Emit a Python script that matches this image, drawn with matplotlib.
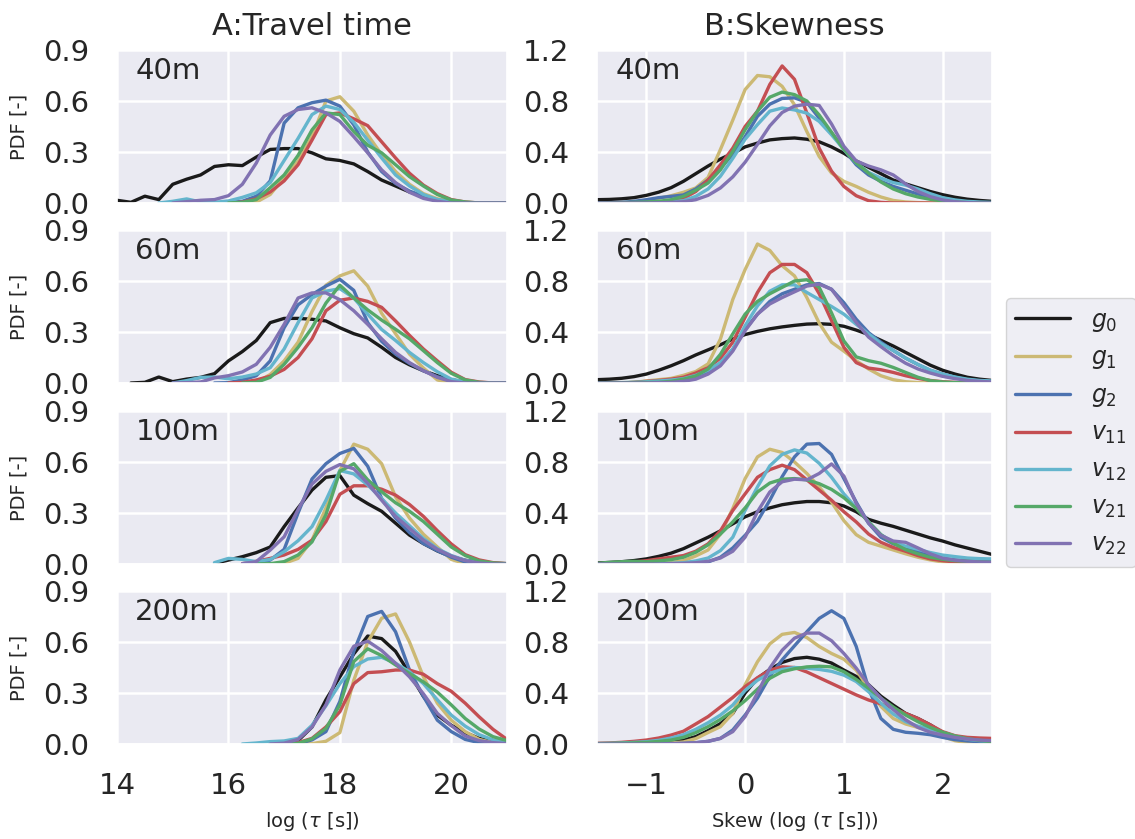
import numpy as np
import matplotlib
matplotlib.use("Agg")
import matplotlib.pyplot as plt
from matplotlib.lines import Line2D
import seaborn as sns

sns.set_theme(style="darkgrid")
plt.rcParams["font.family"] = ["DejaVu Sans"]
plt.rcParams["grid.linewidth"] = 1.8

nan = np.nan

# sample positions of the density curves
tau_grid = np.arange(14.0, 21.0001, 0.25)      # log travel time
skew_grid = np.arange(-1.5, 2.5001, 0.125)     # skewness

series = ["g0", "g1", "g2", "v11", "v12", "v21", "v22"]
legend_labels = [r"$g_0$", r"$g_1$", r"$g_2$", r"$v_{11}$", r"$v_{12}$", r"$v_{21}$", r"$v_{22}$"]
colors = ["#1a1a1a", "#ccb974", "#4c72b0", "#c44e52", "#64b5cd", "#55a868", "#8172b2"]
distances = ["40m", "60m", "100m", "200m"]

# ---- A: travel time densities ----
travel_40m = {
    "g0": [0.016, 0.004, 0.04, 0.02, 0.11, 0.14, 0.165, 0.215, 0.225, 0.22, 0.27, 0.315, 0.32, 0.32, 0.295,
           0.26, 0.25, 0.23, 0.185, 0.135, 0.1, 0.065, 0.04, 0.02, 0.008, 0.002, 0, 0, 0],
    "g1": [nan, nan, nan, nan, nan, nan, nan, nan, nan,
           0, .005, .05, .15, .245, .39, .6, .625, .54, .40, .285, .185, .11, .055, .025, .008, 0, 0, 0, 0],
    "g2": [nan, nan, nan, nan, nan, nan, nan,
           0, .003, .01, .04, .13, .47, .56, .59, .605, .57, .46, .30, .185, .115, .07, .04, .018, .006, 0, 0, 0, 0],
    "v11": [nan, nan, nan, nan, nan, nan, nan, nan,
            0, .005, .025, .065, .13, .225, .37, .52, .53, .495, .455, .36, .265, .175, .105, .055, .02, .006, 0, 0, 0],
    "v12": [nan, nan, nan,
            0, .01, .024, .006, .004, .012, .033, .06, .12, .25, .38, .52, .57, .55, .475, .37, .265, .165, .1,
            .05, .02, .008, 0, 0, 0, 0],
    "v21": [nan, nan, nan, nan, nan, nan, nan, nan,
            0, .004, .02, .09, .165, .28, .43, .53, .52, .42, .34, .295, .225, .155, .1, .05, .018, .006, 0, 0, 0],
    "v22": [nan, nan, nan, nan,
            0, .008, .016, .02, .043, .11, .235, .40, .51, .55, .56, .53, .48, .39, .295, .195, .12, .063, .027,
            .01, 0, 0, 0, 0, 0],
}
travel_60m = {
    "g0": [nan, 0, .004, .035, .008, .023, .033, .055, .13, .185, .25, .355, .38, .38, .375, .365, .325, .29,
           .265, .21, .15, .107, .072, .043, .02, .004, 0, 0, 0],
    "g1": [nan, nan, nan, nan, nan, nan, nan, nan, nan,
           0, .004, .05, .13, .24, .42, .575, .63, .66, .57, .41, .29, .17, .088, .018, 0, 0, 0, 0, 0],
    "g2": [nan, nan, nan, nan, nan, nan, nan,
           0, .002, .018, .043, .13, .325, .46, .52, .57, .61, .545, .355, .245, .17, .115, .072, .037, .014,
           .002, 0, 0, 0],
    "v11": [nan, nan, nan, nan, nan, nan, nan, nan,
            0, .004, .018, .04, .08, .15, .26, .425, .487, .5, .48, .445, .365, .28, .2, .13, .063, .02, .006, 0, 0],
    "v12": [nan, nan, nan, nan,
            0, .014, .033, .035, .025, .035, .053, .09, .2, .355, .5, .54, .555, .5, .405, .315, .25, .18, .12,
            .066, .023, .006, 0, 0, 0],
    "v21": [nan, nan, nan, nan, nan, nan, nan, nan, nan,
            0, .004, .033, .11, .21, .325, .47, .575, .5, .43, .37, .316, .26, .19, .12, .057, .018, .004, 0, 0],
    "v22": [nan, nan, nan, nan,
            0, .002, .006, .03, .043, .065, .11, .21, .345, .5, .53, .53, .49, .425, .345, .26, .18, .12, .072,
            .033, .008, 0, 0, 0, 0],
}
travel_100m = {
    "g0": [nan, nan, nan, nan, nan, nan, nan,
           .004, .023, .043, .067, .1, .22, .33, .435, .51, .52, .405, .355, .31, .24, .17, .12, .077, .043,
           .022, .01, .004, .002],
    "g1": [nan, nan, nan, nan, nan, nan, nan, nan, nan, nan, nan,
           0, .004, .033, .14, .33, .55, .705, .675, .59, .395, .27, .175, .1, .027, .002, 0, 0, 0],
    "g2": [nan, nan, nan, nan, nan, nan, nan, nan, nan, nan,
           .002, .023, .086, .3, .5, .59, .65, .68, .575, .385, .27, .185, .12, .078, .04, .012, .002, 0, 0],
    "v11": [nan, nan, nan, nan, nan, nan, nan, nan, nan,
            .002, .016, .033, .053, .086, .14, .25, .41, .46, .46, .44, .405, .35, .28, .196, .118, .055, .024,
            .008, .002],
    "v12": [nan, nan, nan, nan, nan, nan, nan,
            .008, .033, .027, .014, .027, .072, .137, .22, .375, .55, .53, .465, .385, .3, .225, .15, .09, .05,
            .022, .008, .002, 0],
    "v21": [nan, nan, nan, nan, nan, nan, nan, nan, nan, nan,
            0, .002, .014, .053, .13, .29, .545, .59, .495, .425, .36, .31, .25, .175, .1, .05, .018, .006, .002],
    "v22": [nan, nan, nan, nan, nan, nan, nan, nan, nan,
            .002, .014, .082, .16, .32, .47, .545, .585, .56, .475, .375, .28, .21, .14, .086, .047, .02, .006,
            0, 0],
}
travel_200m = {
    "g0": [nan, nan, nan, nan, nan, nan, nan, nan, nan, nan, nan,
           0, .002, .02, .1, .26, .395, .53, .635, .62, .545, .415, .28, .17, .11, .067, .033, .014, .006],
    "g1": [nan, nan, nan, nan, nan, nan, nan, nan, nan, nan, nan, nan, nan,
           0, .002, .016, .067, .375, .6, .74, .765, .6, .395, .24, .14, .073, .027, .008, .002],
    "g2": [nan, nan, nan, nan, nan, nan, nan, nan, nan, nan, nan, nan,
           0, .002, .024, .073, .25, .545, .75, .78, .66, .435, .28, .14, .073, .027, .008, .002, 0],
    "v11": [nan, nan, nan, nan, nan, nan, nan, nan, nan, nan, nan, nan,
            0, .008, .033, .1, .19, .355, .42, .425, .435, .435, .41, .355, .31, .24, .16, .086, .027],
    "v12": [nan, nan, nan, nan, nan, nan, nan, nan, nan,
            0, .006, .014, .018, .033, .11, .225, .355, .455, .5, .51, .475, .425, .355, .26, .17, .105, .055,
            .024, .01],
    "v21": [nan, nan, nan, nan, nan, nan, nan, nan, nan, nan, nan, nan,
            0, .004, .03, .092, .23, .485, .56, .52, .465, .415, .365, .305, .23, .15, .088, .043, .02],
    "v22": [nan, nan, nan, nan, nan, nan, nan, nan, nan, nan, nan,
            0, .005, .027, .1, .23, .435, .575, .605, .55, .475, .395, .295, .18, .108, .047, .02, .008, .002],
}

# ---- B: skewness densities ----
skew_40m = {
    "g0": [.026, .028, .033, .042, .06, .085, .12, .17, .23, .29, .345, .39, .44, .47, .495, .505, .51, .5, .48,
           .44, .39, .33, .28, .23, .18, .15, .12, .09, .065, .045, .03, .02, .013],
    "g1": [0, 0, 0, .003, .015, .037, .057, .084, .118, .2, .42, .65, .89, 1.0, .99, .915, .77, .56, .365, .235,
           .17, .13, .084, .047, .02, .008, .003, 0, 0, 0, 0, 0, 0],
    "g2": [0, .003, .005, .013, .026, .042, .052, .063, .11, .18, .275, .38, .52, .68, .775, .82, .825, .79,
           .665, .55, .42, .3, .22, .17, .13, .1, .07, .047, .026, .01, .003, 0, 0],
    "v11": [0, 0, 0, 0, .003, .008, .016, .037, .09, .18, .3, .43, .6, .72, .93, 1.075, .97, .705, .43, .25,
            .13, .057, .018, .005, 0, 0, 0, 0, 0, 0, 0, 0, 0],
    "v12": [0, 0, 0, 0, .003, .005, .01, .018, .052, .11, .21, .35, .5, .615, .72, .745, .73, .705, .64, .535,
            .42, .315, .24, .195, .16, .14, .11, .073, .042, .024, .013, .008, .005],
    "v21": [0, .002, .003, .005, .008, .013, .026, .052, .1, .157, .26, .405, .575, .72, .83, .87, .85, .8, .69,
            .555, .42, .315, .235, .165, .11, .073, .047, .029, .016, .008, .003, 0, 0],
    "v22": [0, 0, 0, 0, 0, .002, .005, .01, .026, .06, .118, .205, .32, .46, .605, .71, .76, .775, .765, .62,
            .445, .33, .29, .26, .22, .15, .09, .05, .024, .01, .003, 0, 0],
}
skew_60m = {
    "g0": [.026, .03, .037, .05, .07, .1, .135, .175, .22, .26, .3, .345, .38, .405, .425, .44, .452, .462, .465,
           .46, .445, .415, .38, .335, .29, .24, .19, .14, .1, .07, .045, .03, .02],
    "g1": [0, 0, 0, .005, .016, .026, .036, .06, .09, .15, .345, .655, .89, 1.09, 1.04, .92, .84, .67, .47,
           .32, .25, .175, .11, .057, .026, .01, .003, 0, 0, 0, 0, 0, 0],
    "g2": [0, 0, 0, 0, .003, .005, .01, .018, .04, .083, .155, .265, .42, .54, .64, .7, .735, .77, .78, .735,
           .63, .5, .395, .32, .255, .195, .145, .1, .07, .045, .026, .016, .01],
    "v11": [0, 0, 0, .005, .013, .02, .03, .045, .078, .12, .195, .32, .515, .71, .865, .93, .93, .865, .7,
            .49, .28, .16, .117, .104, .083, .057, .036, .02, .01, .005, 0, 0, 0],
    "v12": [0, 0, .002, .005, .01, .016, .023, .034, .06, .1, .16, .265, .45, .605, .72, .77, .77, .71, .655,
            .6, .54, .46, .385, .31, .255, .195, .145, .1, .07, .047, .03, .02, .016],
    "v21": [.003, .003, .003, .004, .004, .005, .013, .03, .055, .11, .225, .385, .54, .64, .7, .75, .8, .81,
            .75, .55, .33, .205, .175, .155, .122, .083, .045, .018, .008, .003, 0, 0, 0],
    "v22": [0, 0, 0, 0, 0, .003, .005, .013, .03, .07, .135, .25, .41, .54, .62, .67, .715, .76, .775, .735,
            .605, .475, .36, .285, .215, .155, .11, .078, .052, .034, .02, .013, .008],
}
skew_100m = {
    "g0": [.008, .012, .018, .027, .04, .06, .085, .12, .165, .21, .26, .315, .37, .41, .44, .465, .48, .49,
           .49, .48, .455, .41, .35, .32, .295, .265, .235, .205, .18, .15, .125, .1, .075],
    "g1": [0, 0, 0, 0, 0, .003, .01, .026, .063, .11, .235, .435, .67, .84, .9, .875, .8, .71, .605, .485, .34,
           .23, .17, .14, .11, .08, .053, .032, .016, .005, 0, 0, 0],
    "g2": [0, 0, 0, 0, 0, 0, 0, .003, .005, .016, .053, .126, .225, .335, .5, .685, .84, .94, .945, .86, .67,
           .485, .32, .21, .158, .13, .097, .066, .045, .032, .024, .021, .021],
    "v11": [.003, .005, .01, .016, .026, .04, .053, .066, .1, .158, .26, .42, .55, .68, .74, .775, .74, .66,
            .58, .5, .41, .33, .235, .17, .13, .1, .066, .04, .026, .016, .01, .008, .005],
    "v12": [0, 0, 0, 0, 0, .003, .005, .01, .024, .047, .105, .21, .42, .605, .77, .86, .895, .87, .79, .68,
            .55, .44, .33, .23, .17, .14, .115, .09, .07, .058, .047, .042, .04],
    "v21": [.005, .013, .018, .021, .018, .024, .034, .053, .092, .15, .235, .33, .44, .565, .635, .665, .67,
            .66, .63, .585, .52, .435, .33, .23, .163, .113, .08, .053, .037, .026, .021, .016, .013],
    "v22": [0, 0, 0, 0, 0, 0, .003, .005, .01, .021, .047, .1, .21, .41, .565, .645, .665, .66, .71, .785,
            .69, .475, .32, .225, .18, .17, .126, .08, .045, .03, .021, .016, .013],
}
skew_200m = {
    "g0": [.003, .003, .004, .005, .007, .012, .02, .03, .058, .105, .16, .24, .4, .515, .585, .64, .67, .68,
           .665, .635, .58, .53, .465, .375, .305, .24, .2, .15, .09, .052, .031, .018, .01],
    "g1": [0, 0, 0, 0, 0, .003, .008, .016, .042, .09, .136, .24, .465, .645, .785, .86, .875, .835, .765,
           .71, .665, .58, .435, .295, .2, .157, .13, .105, .058, .026, .01, .005, .003],
    "g2": [0, 0, 0, 0, 0, 0, .003, .005, .01, .021, .044, .11, .227, .36, .53, .66, .77, .88, .985, 1.045,
           .985, .765, .437, .2, .115, .092, .084, .073, .052, .034, .024, .018, .016],
    "v11": [.005, .008, .013, .021, .031, .047, .07, .1, .157, .215, .29, .365, .45, .52, .58, .605, .6, .565,
            .52, .475, .43, .385, .345, .315, .28, .24, .2, .15, .097, .065, .052, .047, .044],
    "v12": [.003, .005, .008, .013, .018, .029, .047, .073, .115, .167, .227, .305, .42, .5, .555, .585, .6,
            .595, .585, .57, .54, .49, .41, .32, .235, .175, .14, .118, .089, .058, .037, .026, .021],
    "v21": [.003, .004, .006, .009, .013, .02, .031, .052, .089, .136, .193, .26, .34, .43, .515, .567, .59,
            .605, .61, .605, .567, .507, .437, .36, .29, .227, .175, .13, .092, .063, .042, .029, .018],
    "v22": [0, 0, 0, 0, 0, 0, .003, .005, .01, .021, .044, .097, .215, .4, .595, .735, .83, .87, .87, .81,
            .71, .595, .465, .36, .27, .19, .13, .092, .07, .052, .039, .031, .026],
}

travel_panels = [travel_40m, travel_60m, travel_100m, travel_200m]
skew_panels = [skew_40m, skew_60m, skew_100m, skew_200m]

W, H = 1135, 839
fig = plt.figure(figsize=(W / 100, H / 100), dpi=100)

row_tops = [50, 230, 411, 591]
row_h = 153
col_boxes = [(117, 390), (597, 395)]

tick_fs = 21
text_color = "#262626"


def make_axes(left, width, top):
    return fig.add_axes([left / W, 1 - (top + row_h) / H, width / W, row_h / H])


def draw_panel(ax, grid, curves):
    for name, col in zip(series, colors):
        ax.plot(grid, curves[name], color=col, lw=2.4,
                solid_capstyle="round", solid_joinstyle="round")


for r, dist in enumerate(distances):
    axA = make_axes(col_boxes[0][0], col_boxes[0][1], row_tops[r])
    axB = make_axes(col_boxes[1][0], col_boxes[1][1], row_tops[r])

    draw_panel(axA, tau_grid, travel_panels[r])
    draw_panel(axB, skew_grid, skew_panels[r])

    axA.set_xlim(14, 21)
    axA.set_ylim(0, 0.9)
    axA.set_xticks([14, 16, 18, 20])
    axA.set_yticks([0.0, 0.3, 0.6, 0.9])
    axB.set_xlim(-1.5, 2.5)
    axB.set_ylim(0, 1.2)
    axB.set_xticks([-1, 0, 1, 2])
    axB.set_yticks([0.0, 0.4, 0.8, 1.2])

    for ax in (axA, axB):
        ax.tick_params(axis="both", labelsize=tick_fs, pad=20, colors=text_color, length=0)
        if r < 3:
            ax.tick_params(labelbottom=False)
        ax.text(0.047, 0.955, dist, transform=ax.transAxes, fontsize=21,
                ha="left", va="top", color=text_color)

    axA.set_ylabel("PDF [-]", fontsize=14, color=text_color)
    axA.yaxis.set_label_coords(-0.228, 0.5)

    if r == 0:
        axA.set_title("A:Travel time", fontsize=22, pad=11, color=text_color)
        axB.set_title("B:Skewness", fontsize=22, pad=11, color=text_color)
    if r == 3:
        axA.set_xlabel(r"log ($\tau$ [s])", fontsize=14, color=text_color)
        axA.xaxis.set_label_coords(0.5, -0.43)
        axB.set_xlabel(r"Skew (log ($\tau$ [s]))", fontsize=14, color=text_color)
        axB.xaxis.set_label_coords(0.5, -0.43)

handles = [Line2D([], [], color=c, lw=2.4) for c in colors]
fig.legend(handles, legend_labels, loc="center left",
           bbox_to_anchor=(1006 / W, 1 - 432.5 / H), borderaxespad=0,
           fontsize=17, frameon=True, handlelength=2.3, handletextpad=0.9,
           labelspacing=0.5, borderpad=0.4)

fig.savefig("out.png", dpi=100)
